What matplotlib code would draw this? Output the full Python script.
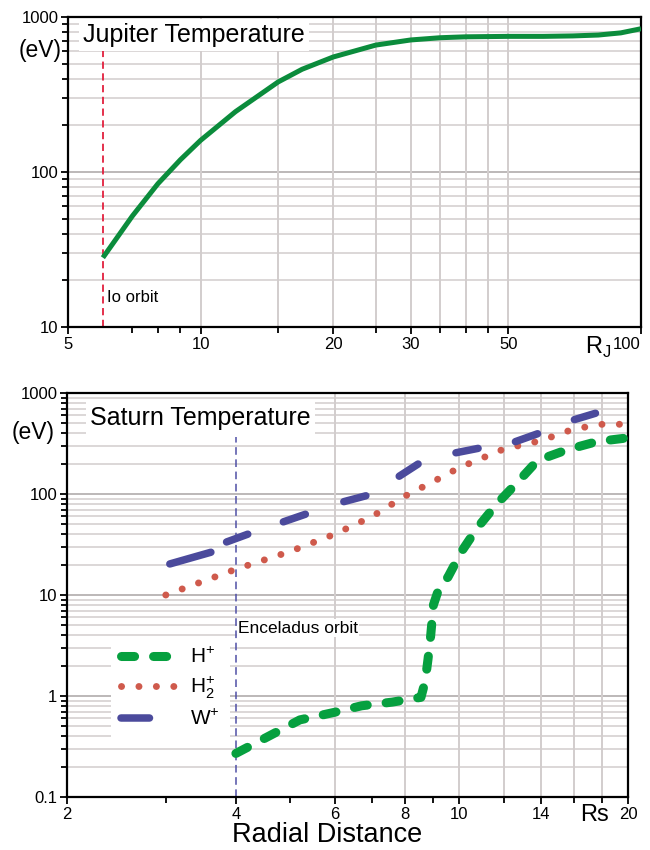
import matplotlib
matplotlib.use('Agg')
import matplotlib.pyplot as plt
from matplotlib.lines import Line2D
from matplotlib.ticker import FixedLocator, NullFormatter

plt.rcParams['font.family'] = ['Liberation Sans', 'DejaVu Sans']

# Jupiter temperature profile (R_J, eV)
jup_r = [6, 7, 8, 9, 10, 12, 15, 17, 20, 25, 30, 35, 40, 50, 60, 70, 80, 90, 100]
jup_t = [28, 52, 84, 120, 160, 245, 381, 460, 552, 659, 711, 735, 745, 750, 750, 755, 765, 790, 840]
io_orbit = 6

# Saturn temperatures (Rs, eV)
hp_r = [4.0, 5.2, 6.0, 6.7, 7.6, 8.35, 8.55, 8.7, 8.8, 8.9, 9.0, 9.25, 9.55, 10.1, 10.8, 11.7, 12.7, 13.8, 15.6, 17.6, 20]
hp_t = [0.27, 0.58, 0.69, 0.8, 0.87, 0.95, 0.97, 1.4, 2.3, 4.0, 8.0, 12.6, 15, 27, 47, 81, 130, 215, 275, 330, 360]

h2_r = [3, 4, 5, 6, 7, 8, 9, 10, 12, 14, 16, 18, 20]
h2_t = [10, 18, 27, 40, 60, 95, 133, 182, 278, 338, 440, 490, 490]

# W+ is drawn as separate dashes: (start, end) pairs
w_r = [3.05, 3.61, 3.85, 4.2, 4.86, 5.32, 6.23, 6.82, 7.82, 8.45, 9.87, 10.81, 12.6, 13.8, 16.05, 17.5]
w_t = [20.3, 26.5, 33.5, 40, 53, 63, 84, 96, 150, 198, 256, 283, 330, 395, 545, 630]
enceladus_orbit = 4

grid_c = '#d2cdcd'
dark_grid = '#aaa4a4'
w_color = '#4b4a9c'


def style_axes(ax, yminor, ymajor):
    ax.set_yscale('log')
    ax.set_xscale('log')
    for s in ax.spines.values():
        s.set_linewidth(1.6)
        s.set_color('black')
    for v in yminor:
        ax.axhline(v, color=grid_c, lw=1.1, zorder=0)
    for v in ymajor:
        ax.axhline(v, color=dark_grid, lw=1.1, zorder=0)
    ax.yaxis.set_major_locator(FixedLocator(ymajor))
    ax.yaxis.set_minor_locator(FixedLocator(yminor))
    ax.yaxis.set_minor_formatter(NullFormatter())
    ax.set_yticklabels([('%g' % v) for v in ymajor])
    ax.tick_params(which='both', direction='out', labelsize=12, width=1.3)
    ax.tick_params(which='major', length=5, pad=2)
    ax.tick_params(which='minor', length=4)


fig = plt.figure(figsize=(6.5, 8.5), dpi=100)

# ---- Jupiter ----
ax1 = fig.add_axes([68 / 650, 1 - 327 / 850, 573 / 650, 310 / 850])
ymin1 = [m * d for d in [10, 100] for m in range(2, 10)]
style_axes(ax1, ymin1, [10, 100, 1000])
ax1.set_xlim(5, 100)
ax1.set_ylim(10, 1000)
for v in [10, 15, 20, 25, 30, 35, 40, 45, 50]:
    ax1.axvline(v, color=grid_c, lw=1.4, zorder=0)
ax1.xaxis.set_major_locator(FixedLocator([5, 10, 20, 30, 50, 100]))
ax1.xaxis.set_minor_locator(FixedLocator([7, 8, 9, 15, 25, 35, 40, 45]))
ax1.xaxis.set_minor_formatter(NullFormatter())
ax1.set_xticklabels(['5', '10', '20', '30', '50', '100'])
ax1.get_xticklabels()[-1].set_horizontalalignment('right')

ax1.plot(jup_r, jup_t, color='#0b8c3c', lw=3.6, solid_capstyle='butt',
         solid_joinstyle='round', zorder=3)
ax1.plot([io_orbit, io_orbit], [10, 612], color='#e2203e', lw=1.3, ls=(0, (4, 2.5)), zorder=2)
ax1.text(0.068, 0.094, 'Io orbit', transform=ax1.transAxes, fontsize=12, va='center', ha='left')
ax1.text(0.026, 0.942, 'Jupiter Temperature', transform=ax1.transAxes, fontsize=18,
         va='center', ha='left', bbox=dict(facecolor='white', edgecolor='none', pad=3), zorder=5)
fig.text(40 / 650, 1 - 50 / 850, '(eV)', fontsize=16.5, ha='center', va='center')
fig.text(598 / 650, 1 - 347 / 850, 'R$_\\mathregular{J}$', fontsize=17, ha='center', va='center')

# ---- Saturn ----
ax2 = fig.add_axes([67 / 650, 1 - 797 / 850, 561 / 650, 404 / 850])
ymin2 = [m * d for d in [0.1, 1, 10, 100] for m in range(2, 10)]
style_axes(ax2, ymin2, [0.1, 1, 10, 100, 1000])
ax2.set_xlim(2, 20)
ax2.set_ylim(0.1, 1000)
for v in [6, 8, 10, 12, 14, 16, 18]:
    ax2.axvline(v, color=grid_c, lw=1.4, zorder=0)
ax2.xaxis.set_major_locator(FixedLocator([2, 4, 6, 8, 10, 14, 20]))
ax2.xaxis.set_minor_locator(FixedLocator([3, 5, 7, 9, 12, 16, 18]))
ax2.xaxis.set_minor_formatter(NullFormatter())
ax2.set_xticklabels(['2', '4', '6', '8', '10', '14', '20'])

ax2.plot([enceladus_orbit, enceladus_orbit], [0.1, 366], color='#4f4fa6', lw=1.1,
         ls=(0, (5, 3)), zorder=2)
hp_line, = ax2.plot(hp_r, hp_t, color='#06a03f', lw=6.5, ls=(0, (1.45, 2.1)),
                    dash_capstyle='round', zorder=4)
h2_line, = ax2.plot(h2_r, h2_t, color='#cf5a4c', lw=5, ls=(0, (0.01, 2.5)),
                    dash_capstyle='round', zorder=3)
for i in range(0, len(w_r), 2):
    ax2.plot(w_r[i:i + 2], w_t[i:i + 2], color=w_color, lw=5.4,
             solid_capstyle='round', zorder=3)
w_handle = Line2D([], [], color=w_color, lw=5.4, ls=(0, (3.8, 10)), dash_capstyle='round')

ax2.text(0.041, 0.938, 'Saturn Temperature', transform=ax2.transAxes, fontsize=18,
         va='center', ha='left', bbox=dict(facecolor='white', edgecolor='none', pad=3), zorder=5)
ax2.text(0.305, 0.418, 'Enceladus orbit', transform=ax2.transAxes, fontsize=12.5,
         va='center', ha='left', bbox=dict(facecolor='white', edgecolor='none', pad=1), zorder=5)
leg = ax2.legend([hp_line, h2_line, w_handle],
                 ['H$^\\mathregular{+}$', 'H$_\\mathregular{2}^\\mathregular{+}$', 'W$^\\mathregular{+}$'],
                 loc='upper left', bbox_to_anchor=(0.06, 0.425), fontsize=15,
                 handlelength=2.6, handletextpad=0.7, labelspacing=0.35,
                 frameon=True, fancybox=False, borderpad=0.5)
leg.get_frame().set_facecolor('white')
leg.get_frame().set_edgecolor('none')
leg.get_frame().set_alpha(1)

fig.text(33 / 650, 1 - 433 / 850, '(eV)', fontsize=16.5, ha='center', va='center')
fig.text(594 / 650, 1 - 815 / 850, 'Rs', fontsize=17, ha='center', va='center')
fig.text(327 / 650, 1 - 835 / 850, 'Radial Distance', fontsize=19.5, ha='center', va='center')

fig.savefig('out.png', dpi=100)
